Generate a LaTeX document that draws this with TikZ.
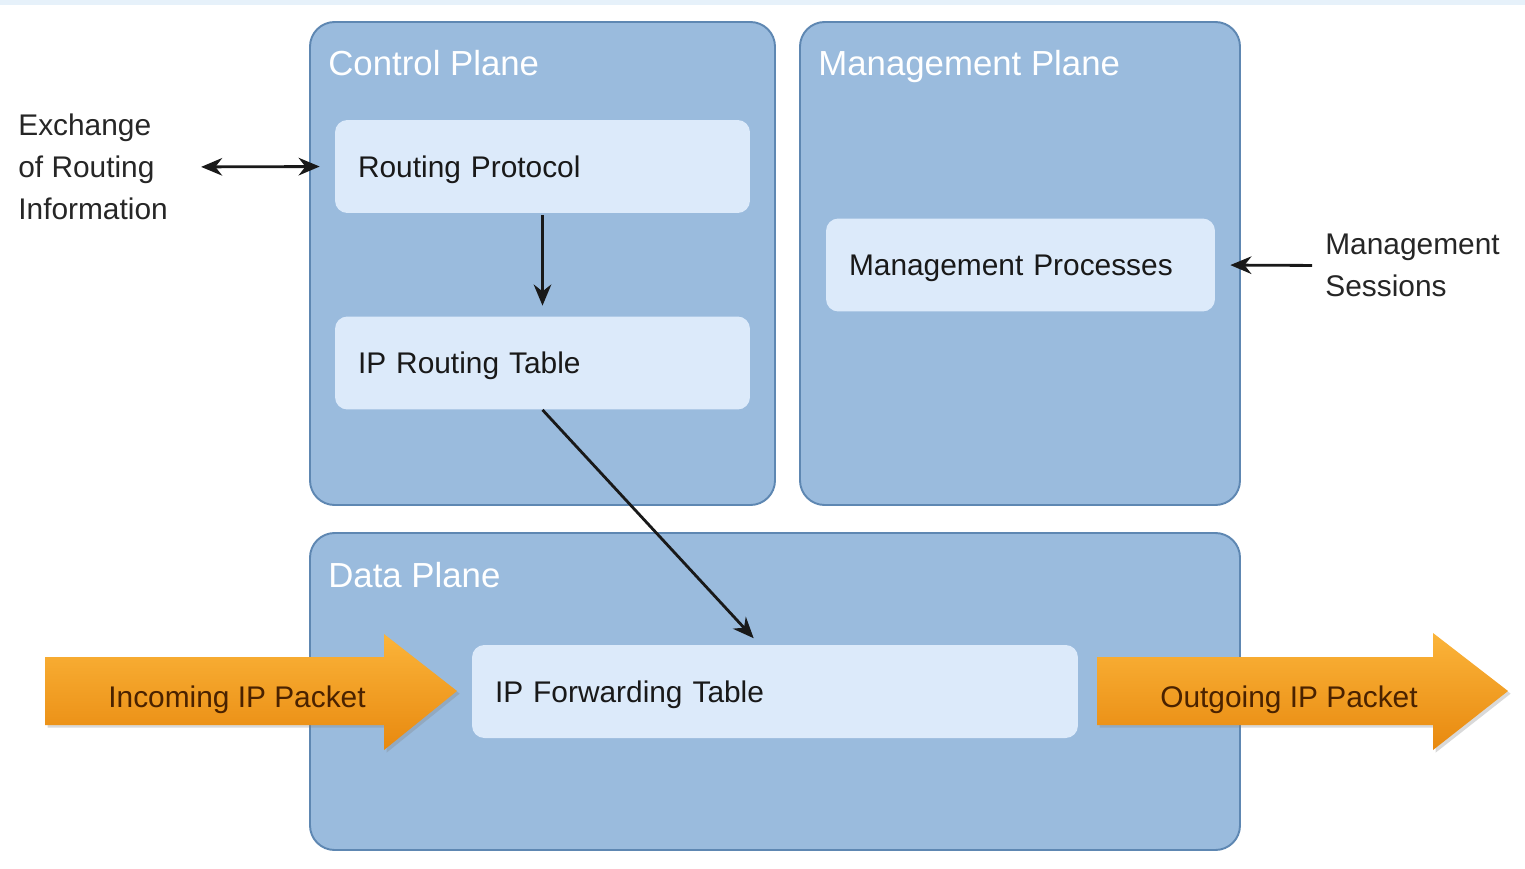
\documentclass[tikz,border=0pt]{standalone}
\usepackage{fontspec}
\setmainfont{Liberation Sans}
\usetikzlibrary{arrows.meta,fit,shadows}
\definecolor{planefill}{HTML}{9ABBDD}
\definecolor{planeedge}{HTML}{5E87B2}
\definecolor{procfill}{HTML}{DCEAFA}
\definecolor{stripfill}{HTML}{E6F1FA}
\definecolor{pkttop}{HTML}{FBB43A}
\definecolor{pktbot}{HTML}{E8890F}
\definecolor{pkttext}{HTML}{4A2200}
\begin{document}
\begin{tikzpicture}[x=0.02cm, y=-0.02cm,
    plane/.style = {draw=planeedge, line width=1.1pt, fill=planefill, rounded corners=14pt, inner sep=0pt},
    title/.style = {anchor=base west, text=white, font=\fontsize{19.8}{22}\selectfont, inner sep=0pt},
    proc/.style = {fill=procfill, rounded corners=7pt, minimum height=1.86cm, inner xsep=0.46cm, text depth=0pt, align=left, font=\fontsize{17}{20}\selectfont, text=black!90},
    side/.style = {anchor=west, align=left, inner sep=0pt, font=\fontsize{17}{24}\selectfont, text=black!85},
    flow/.style = {-{Stealth[length=12pt,width=10pt]}, line width=1.6pt, black!90},
    packet/.style = {top color=pkttop, bottom color=pktbot, drop shadow={opacity=0.3, shadow xshift=1.5pt, shadow yshift=-1.5pt}},
    pktlabel/.style = {text=pkttext, font=\fontsize{17}{20}\selectfont, text depth=0pt, inner sep=0pt}]
    \useasboundingbox (0,0) rectangle (1525,869);
    \fill[stripfill] (0,0) rectangle (1525,5);

    % the three planes
    \node[plane, fit={(310,22) (775,505)}] (ctrl) {};
    \node[plane, fit={(800,22) (1240,505)}] (mgmt) {};
    \node[plane, fit={(310,533) (1240,850)}] (data) {};
    \node[title] (ctrl-t) at (328,75) {Control Plane};
    \node[title] (mgmt-t) at (818,75) {Management Plane};
    \node[title] (data-t) at (328,587) {Data Plane};

    % processes inside the planes
    \node[proc, text width=7.38cm] (rp) at (542.5,166.5) {Routing Protocol};
    \node[proc, text width=7.38cm] (irt) at (542.5,363) {IP Routing Table};
    \node[proc, text width=6.86cm] (mp) at (1020.5,265) {Management Processes};
    \node[proc, text width=11.2cm] (ift) at (775,691.5) {IP Forwarding Table};

    % outside texts
    \node[side] (exch) at (18,167) {Exchange\\of Routing\\Information};
    \node[side] (sess) at (1325,265.5) {Management\\Sessions};

    % packets in and out
    \path[packet] (45,657) -- (384,657) -- (384,634) -- (457,691) -- (384,750) -- (384,725) -- (45,725) -- cycle;
    \path[packet] (1097,657) -- (1433,657) -- (1433,633) -- (1508,691) -- (1433,750) -- (1433,725) -- (1097,725) -- cycle;
    \node[pktlabel] (in-lbl) at (237,697) {Incoming IP Packet};
    \node[pktlabel] (out-lbl) at (1289,697) {Outgoing IP Packet};

    % connectors
    \draw[flow, {Stealth[length=12pt,width=10pt]}-{Stealth[length=12pt,width=10pt]}, shorten <=0.66cm, shorten >=0.3cm] (exch.east) -- (rp.west);
    \draw[flow, shorten <=1pt, shorten >=6pt] (rp) -- (irt);
    \draw[flow, shorten >=5pt] (irt.south) -- ([xshift=5.76cm]ift.north west);
    \draw[flow, shorten <=0.26cm, shorten >=0.3cm] (sess.west) -- (mp.east);
\end{tikzpicture}
\end{document}
